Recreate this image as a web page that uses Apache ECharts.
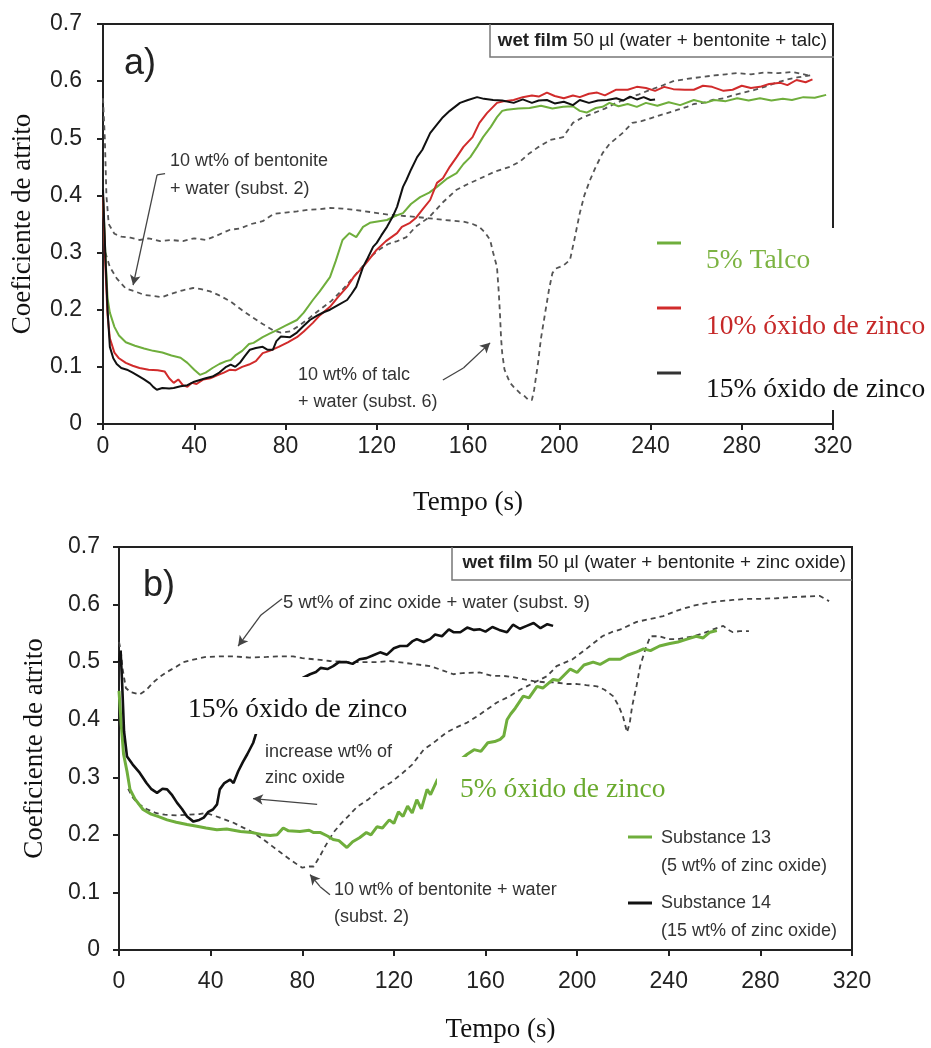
<!DOCTYPE html>
<html>
<head>
<meta charset="utf-8">
<script src="https://cdn.jsdelivr.net/npm/echarts@6/dist/echarts.min.js"></script>
<style>
  html, body { margin: 0; padding: 0; background: #fff; }
  #chart { width: 931px; height: 1048px; }
</style>
</head>
<body>
<div id="chart"></div>
<script>
// ticks shared by both panels
const xTicks = [0, 40, 80, 120, 160, 200, 240, 280, 320]
const yTicks = [0, 0.1, 0.2, 0.3, 0.4, 0.5, 0.6, 0.7]

// ---- panel a) : [tempo (s), coeficiente] ----
const talco5 = [[0,0.40],[1,0.30],[2,0.22],[3,0.195],[5,0.17],[7,0.155],[10,0.143],[14,0.137],[18,0.132],[22,0.128],[26,0.125],[30,0.12],[34,0.116],[37,0.107],[40,0.095],[42.5,0.086],[45,0.09],[48,0.098],[51,0.105],[54,0.11],[56,0.112],[58,0.12],[61,0.128],[64,0.14],[66,0.142],[70,0.152],[73,0.158],[76,0.164],[80,0.172],[85,0.182],[88,0.195],[92,0.217],[95,0.232],[99.5,0.257],[102,0.285],[105,0.322],[108,0.334],[111,0.327],[114,0.345],[117,0.352],[121,0.355],[124.5,0.357],[128,0.364],[131.5,0.369],[135,0.385],[139,0.397],[143,0.405],[146.4,0.415],[151,0.43],[155,0.439],[158,0.455],[161,0.467],[164,0.485],[166.6,0.502],[170,0.52],[172.7,0.537],[175,0.548],[177,0.55],[182,0.552],[187,0.553],[192,0.557],[197,0.552],[201.7,0.555],[206,0.556],[209,0.548],[212,0.545],[216,0.553],[219,0.555],[222,0.562],[226,0.556],[230,0.56],[234,0.555],[238,0.562],[243,0.557],[248,0.563],[253,0.558],[259,0.567],[264,0.562],[268,0.567],[273,0.565],[278,0.57],[283,0.566],[288,0.57],[293,0.566],[298,0.569],[302,0.567],[307,0.572],[312,0.571],[317,0.576]]
const zinco10 = [[0,0.40],[1,0.28],[2,0.19],[3,0.15],[5,0.125],[7,0.115],[10,0.107],[13,0.102],[16,0.098],[20,0.095],[24,0.094],[27,0.092],[29,0.08],[31,0.072],[33,0.078],[35,0.068],[37,0.065],[39,0.072],[41,0.07],[44,0.078],[47,0.08],[50,0.085],[53,0.09],[55.7,0.095],[58,0.094],[61,0.1],[64,0.104],[67,0.11],[70,0.124],[73,0.128],[77,0.135],[81,0.143],[85,0.152],[88,0.162],[92,0.177],[95,0.19],[99.5,0.205],[103,0.222],[107,0.24],[110,0.258],[114,0.275],[117,0.29],[120,0.305],[124,0.32],[128.9,0.334],[131,0.345],[134.6,0.352],[137,0.36],[140,0.375],[143.4,0.392],[146.4,0.422],[149,0.43],[152,0.45],[155,0.467],[158,0.485],[162,0.502],[165,0.527],[168.3,0.544],[172.7,0.562],[176,0.565],[180,0.567],[184,0.572],[188,0.575],[191,0.573],[194.6,0.58],[198,0.574],[202,0.57],[206,0.575],[209,0.572],[213,0.578],[216.6,0.58],[220,0.575],[225,0.585],[230,0.585],[234,0.59],[238,0.588],[242,0.583],[246,0.59],[250,0.586],[255,0.585],[259,0.585],[263,0.592],[267,0.59],[272,0.583],[276,0.585],[280,0.592],[284,0.588],[288,0.59],[292,0.595],[297,0.597],[300,0.593],[304,0.602],[308,0.598],[311,0.603]]
const zinco15 = [[0,0.41],[1,0.3],[2,0.2],[3,0.135],[4.5,0.115],[6,0.105],[8,0.098],[10.5,0.095],[13,0.09],[16,0.083],[18,0.078],[20.6,0.071],[22,0.065],[23.6,0.06],[26,0.063],[29,0.062],[31,0.063],[34,0.066],[37,0.068],[40,0.074],[42.5,0.077],[45,0.08],[48,0.083],[51,0.09],[54,0.1],[56,0.104],[58,0.1],[60,0.107],[62,0.118],[64.4,0.13],[67,0.133],[70,0.135],[72,0.13],[74.5,0.13],[76,0.145],[78,0.153],[82,0.152],[85,0.16],[88,0.172],[90.7,0.182],[94,0.19],[97,0.196],[99.5,0.2],[103,0.208],[107,0.217],[109,0.228],[111,0.24],[114,0.275],[116,0.29],[118.4,0.31],[120,0.317],[122,0.33],[124.5,0.345],[127,0.363],[128.9,0.38],[131.5,0.415],[133,0.427],[135,0.445],[137.7,0.467],[140,0.48],[143.4,0.509],[146,0.522],[149,0.537],[152,0.548],[156.5,0.562],[160,0.567],[164,0.572],[167,0.569],[171,0.567],[175,0.566],[180,0.562],[184,0.568],[188,0.562],[191,0.566],[194.6,0.567],[198,0.561],[202,0.564],[206,0.558],[209,0.567],[213,0.562],[217,0.566],[221,0.567],[225,0.57],[228,0.566],[231,0.573],[234,0.568],[237,0.572],[240,0.567],[242,0.568]]
// 10 wt% of talc + water (subst. 6)
const talcSubst6 = [[0,0.57],[0.8,0.50],[1.5,0.40],[2.5,0.35],[5,0.333],[8,0.328],[12,0.326],[16,0.322],[20,0.325],[25,0.32],[30,0.322],[35,0.32],[40,0.325],[45,0.322],[50,0.33],[55.7,0.34],[60,0.342],[65,0.35],[70,0.355],[75,0.368],[80,0.37],[85,0.372],[90,0.375],[95,0.376],[99.5,0.378],[105,0.377],[110,0.375],[117,0.371],[122,0.368],[126,0.366],[132,0.364],[138,0.362],[143,0.36],[150,0.357],[158,0.354],[162,0.35],[165,0.345],[167.5,0.335],[169.7,0.322],[171,0.3],[172.7,0.275],[173.5,0.23],[174,0.194],[174.5,0.15],[175,0.124],[176,0.095],[178.4,0.072],[180,0.065],[182.8,0.054],[185,0.048],[186.5,0.042],[188,0.042],[189,0.06],[190.7,0.107],[192,0.15],[193.8,0.194],[195.5,0.235],[197,0.264],[198.5,0.272],[200.3,0.275],[202,0.278],[204.7,0.287],[206.5,0.32],[209,0.369],[211,0.4],[213.5,0.427],[216,0.45],[219,0.474],[222,0.49],[225,0.5],[228,0.51],[232,0.527],[236,0.53],[240,0.535],[244,0.54],[248,0.545],[252,0.55],[256,0.555],[259,0.56],[263,0.562],[267,0.567],[272,0.57],[276,0.575],[281,0.58],[286,0.585],[290,0.59],[295,0.597],[300,0.603],[305,0.607],[310,0.61]]
// 10 wt% of bentonite + water (subst. 2)
const bentSubst2a = [[1,0.30],[3,0.275],[6,0.255],[10,0.237],[14,0.232],[18,0.226],[22,0.224],[26,0.222],[30,0.228],[35,0.234],[39.5,0.238],[43,0.236],[47,0.232],[51,0.225],[55.7,0.215],[60,0.202],[65,0.188],[70,0.175],[75,0.163],[78,0.16],[82,0.162],[86,0.172],[90,0.184],[95,0.2],[100,0.215],[105,0.235],[110,0.258],[113,0.272],[117,0.292],[121,0.305],[125,0.315],[129,0.32],[133,0.327],[137,0.345],[143,0.362],[149,0.388],[155,0.41],[160,0.42],[166.6,0.432],[172,0.442],[178.4,0.45],[183,0.46],[187,0.474],[191,0.485],[196,0.497],[201.7,0.502],[206,0.527],[210,0.536],[215,0.544],[220,0.552],[225,0.562],[230,0.57],[235,0.577],[240,0.585],[245,0.592],[250,0.6],[256,0.604],[262,0.607],[268,0.61],[273,0.612],[278,0.614],[284,0.612],[290,0.615],[296,0.614],[302,0.616],[306,0.613],[309,0.61]]

// ---- panel b) ----
const subst13 = [[0,0.45],[1,0.39],[2,0.34],[3.5,0.31],[4.8,0.279],[7,0.262],[10.5,0.244],[14,0.236],[17,0.232],[21,0.226],[25,0.222],[29.7,0.218],[34,0.215],[38,0.212],[42.7,0.209],[47,0.21],[53,0.206],[58,0.204],[63,0.2],[66,0.199],[69,0.2],[71.7,0.212],[74,0.207],[79,0.206],[83,0.208],[85,0.204],[88,0.204],[91,0.198],[93.5,0.192],[96,0.19],[99.5,0.178],[102,0.188],[105,0.195],[108,0.204],[110,0.2],[112.6,0.214],[115,0.212],[118,0.226],[120,0.22],[122,0.24],[124,0.232],[126,0.25],[128,0.238],[130,0.261],[132,0.245],[134.5,0.279],[136,0.27],[139,0.296],[142,0.305],[145,0.315],[149,0.33],[152,0.34],[155,0.348],[158,0.345],[161,0.36],[164,0.362],[166.4,0.366],[168,0.372],[169.4,0.40],[171,0.41],[173,0.42],[176.5,0.441],[179,0.438],[182.5,0.458],[185,0.455],[189.5,0.47],[192,0.468],[197,0.488],[200,0.482],[203,0.495],[207,0.5],[210,0.496],[214,0.505],[218.8,0.505],[222,0.512],[226,0.518],[229,0.523],[232,0.52],[236,0.528],[240,0.532],[244,0.535],[248,0.54],[252,0.545],[255,0.542],[258,0.552],[261,0.555]]
const subst14 = [[0,0.5],[0.7,0.52],[1.3,0.47],[2.2,0.38],[3.5,0.336],[6,0.322],[9,0.308],[12,0.29],[14,0.28],[16.6,0.273],[19,0.28],[21,0.279],[23,0.27],[25.3,0.256],[27.5,0.245],[29.7,0.232],[32.5,0.223],[35,0.226],[37,0.23],[39,0.24],[41,0.244],[42.8,0.253],[44,0.279],[46,0.29],[48.5,0.296],[50,0.29],[52,0.31],[54,0.326],[56,0.34],[58.6,0.36],[60,0.378],[62,0.39],[65,0.41],[68,0.43],[72,0.45],[76,0.462],[80,0.472],[83.4,0.479],[86,0.483],[88,0.49],[91,0.488],[93.5,0.493],[96,0.5],[99.5,0.5],[102,0.497],[105,0.505],[108,0.507],[111,0.512],[114,0.517],[117,0.513],[120,0.524],[122.7,0.528],[125.8,0.528],[128,0.536],[130,0.54],[133,0.535],[135.8,0.54],[138,0.548],[141,0.545],[144,0.557],[146,0.552],[149,0.552],[152,0.56],[155,0.556],[157.6,0.557],[160,0.553],[163,0.561],[166,0.556],[169.4,0.552],[172,0.565],[175,0.558],[178,0.563],[181,0.568],[184,0.559],[187,0.566],[189.5,0.563]]
// 5 wt% of zinc oxide + water (subst. 9)
const zincSubst9 = [[0,0.535],[0.8,0.52],[1.5,0.49],[3,0.455],[5,0.448],[9,0.444],[12,0.452],[15,0.465],[18,0.475],[21,0.483],[25,0.492],[28,0.5],[33,0.505],[38,0.509],[44,0.51],[50,0.51],[57,0.508],[64.5,0.509],[70,0.51],[76,0.51],[80,0.507],[85,0.505],[92,0.502],[99.5,0.5],[106,0.5],[112.7,0.5],[118,0.502],[124,0.499],[130,0.496],[136,0.493],[141,0.486],[146,0.479],[150,0.481],[157.6,0.482],[163,0.476],[168,0.476],[172,0.474],[177,0.47],[181,0.467],[186,0.465],[190,0.465],[195.6,0.462],[200,0.462],[204,0.46],[208.7,0.458],[212,0.452],[215.7,0.441],[218,0.425],[220,0.406],[221.8,0.378],[223,0.395],[224,0.423],[226,0.46],[227.5,0.493],[230,0.525],[232,0.545],[236,0.545],[240,0.54],[244,0.54],[248,0.543],[251,0.545],[255,0.55],[259.4,0.557],[263.8,0.563],[266,0.556],[268,0.552],[271,0.554],[275,0.554]]
const bentSubst2b = [[4,0.28],[6,0.265],[8,0.255],[12,0.245],[16,0.238],[20,0.235],[25,0.234],[30,0.235],[35,0.236],[38,0.238],[44,0.23],[50,0.221],[54,0.213],[58.6,0.204],[63,0.192],[67,0.18],[71,0.168],[74.7,0.157],[78,0.148],[80,0.143],[83,0.145],[85,0.145],[88,0.165],[90,0.18],[93.6,0.204],[97,0.22],[100,0.232],[104,0.249],[109,0.262],[114,0.279],[119,0.292],[124,0.308],[128,0.322],[133,0.348],[138,0.362],[143,0.378],[148,0.388],[152,0.395],[156,0.405],[160.7,0.418],[165,0.43],[170.7,0.441],[175,0.452],[178,0.458],[183,0.468],[187,0.476],[191,0.493],[198,0.505],[204,0.523],[211,0.545],[215,0.552],[219,0.557],[226,0.57],[232,0.575],[237.6,0.58],[244,0.59],[250.7,0.598],[256,0.602],[262,0.606],[268,0.608],[274,0.61],[280,0.61],[287,0.611],[294,0.613],[300,0.614],[306,0.615],[310,0.606]]

// annotation arrows, in data coords: [from, to, withHead]
const arrowsA = [
  [[27.2, 0.438], [23.7, 0.436], false],
  [[23.7, 0.436], [13.2, 0.243], true],
  [[149, 0.077], [158, 0.098], false],
  [[158, 0.098], [169.7, 0.142], true]
]
const arrowsB = [
  [[71.2, 0.61], [62, 0.582], false],
  [[62, 0.582], [52, 0.528], true],
  [[86.5, 0.253], [58.5, 0.263], true],
  [[92.1, 0.096], [87.8, 0.11], false],
  [[87.8, 0.11], [83.4, 0.131], true]
]

const SANS = 'Liberation Sans'
const SERIF = 'Liberation Serif'
const INK = '#222'

const chart = echarts.init(document.getElementById('chart'))

function xAxisFor (gi, margin, gap, namePad) {
  return {
    type: 'value', gridIndex: gi,
    min: xTicks[0], max: xTicks[xTicks.length - 1], interval: xTicks[1] - xTicks[0],
    axisLine: { onZero: false, lineStyle: { color: INK, width: 2 } },
    axisTick: { length: 6, lineStyle: { color: INK, width: 2 } },
    splitLine: { show: false },
    axisLabel: { fontFamily: SANS, fontSize: 23, color: INK, margin: margin },
    name: 'Tempo (s)', nameLocation: 'middle', nameGap: gap,
    nameTextStyle: { fontFamily: SERIF, fontSize: 27, color: '#111', padding: namePad }
  }
}
function yAxisFor (gi, margin, gap) {
  return {
    type: 'value', gridIndex: gi,
    min: yTicks[0], max: yTicks[yTicks.length - 1], interval: 0.1,
    axisLine: { onZero: false, lineStyle: { color: INK, width: 2 } },
    axisTick: { length: 6, lineStyle: { color: INK, width: 2 } },
    splitLine: { show: false },
    axisLabel: {
      fontFamily: SANS, fontSize: 23, color: INK, margin: margin,
      formatter: v => v === 0 ? '0' : v.toFixed(1)
    },
    name: 'Coeficiente de atrito', nameLocation: 'middle', nameGap: gap, nameRotate: 90,
    nameTextStyle: { fontFamily: SERIF, fontSize: 27, color: '#111' }
  }
}

function line (data, gi, color, width, dashed) {
  return {
    type: 'line', xAxisIndex: gi, yAxisIndex: gi, data: data,
    showSymbol: false, symbol: 'none', silent: true,
    lineStyle: { color: color, width: width, type: dashed ? [5, 4] : 'solid' }
  }
}
function arrows (list) {
  return {
    silent: true, animation: false,
    label: { show: false },
    lineStyle: { color: '#444', width: 1.3, type: 'solid' },
    symbolSize: [8, 10],
    data: list.map(a => [
      { coord: a[0], symbol: 'none' },
      { coord: a[1], symbol: a[2] ? 'arrow' : 'none' }
    ])
  }
}

const dashA = line(talcSubst6, 0, '#555', 1.8, true)
dashA.markLine = arrows(arrowsA)
const dashB = line(zincSubst9, 1, '#444', 1.8, true)
dashB.markLine = arrows(arrowsB)

function txt (x, y, text, size, color, font, extra) {
  return {
    type: 'text', x: x, y: y, z: 60,
    style: Object.assign({ text: text, font: size + 'px "' + font + '"', fill: color, verticalAlign: 'middle' }, extra || {})
  }
}
function seg (x1, y1, x2, y2, color, w) {
  return { type: 'line', z: 60, shape: { x1: x1, y1: y1, x2: x2, y2: y2 }, style: { stroke: color, lineWidth: w } }
}
function header (x, y, text) {
  return {
    type: 'text', x: x, y: y, z: 60,
    style: {
      text: '{b|wet film} ' + text, align: 'right', verticalAlign: 'middle',
      font: '18.8px "' + SANS + '"', fill: INK,
      rich: { b: { fontWeight: 'bold', fontSize: 18.8, fontFamily: SANS, fill: INK } }
    }
  }
}

const graphics = [
  // panel a) header box and label
  { type: 'polyline', z: 60, shape: { points: [[490, 24], [490, 57], [834, 57]] }, style: { stroke: '#777', lineWidth: 1.5, fill: null } },
  header(827, 41, '50 µl (water + bentonite + talc)'),
  txt(124, 64, 'a)', 36, INK, SANS),
  txt(170, 161, '10 wt% of bentonite', 18, '#333', SANS),
  txt(170, 189, '+ water (subst. 2)', 18, '#333', SANS),
  txt(298, 375, '10 wt% of talc', 18, '#333', SANS),
  txt(298, 402, '+ water (subst. 6)', 18, '#333', SANS),
  // panel a) legend on a white patch
  { type: 'rect', z: 55, shape: { x: 688, y: 228, width: 243, height: 182 }, style: { fill: '#fff' } },
  seg(657, 243, 681, 243, '#6fae3c', 3),
  txt(706, 261, '5% Talco', 27.5, '#7cb342', SERIF),
  seg(657, 308, 681, 308, '#d12b2b', 3),
  txt(706, 327, '10% óxido de zinco', 27.5, '#c62828', SERIF),
  seg(657, 373, 681, 373, '#333', 3),
  txt(706, 390, '15% óxido de zinco', 27.5, '#111', SERIF),

  // panel b) header box and label
  { type: 'polyline', z: 60, shape: { points: [[452, 547], [452, 580], [852, 580]] }, style: { stroke: '#777', lineWidth: 1.5, fill: null } },
  header(846, 563, '50 µl (water + bentonite + zinc oxide)'),
  txt(143, 586, 'b)', 36, INK, SANS),
  txt(283, 603, '5 wt% of zinc oxide + water (subst. 9)', 18.5, '#333', SANS),
  txt(174, 677, '15% óxido de zinco', 27.5, '#111', SERIF,
    { verticalAlign: 'top', backgroundColor: '#fff', padding: [19, 12, 10, 14] }),
  txt(265, 752, 'increase wt% of', 18, '#333', SANS),
  txt(265, 778, 'zinc oxide', 18, '#333', SANS),
  txt(334, 890, '10 wt% of bentonite + water', 18, '#333', SANS),
  txt(334, 917, '(subst. 2)', 18, '#333', SANS),
  txt(437, 757, '5% óxido de zinco', 27.5, '#6aaa2e', SERIF,
    { verticalAlign: 'top', backgroundColor: '#fff', padding: [19, 10, 6, 23] }),
  // panel b) legend
  seg(628, 837, 652, 837, '#6fae3c', 3),
  txt(661, 838, 'Substance 13', 18, '#333', SANS),
  txt(661, 866, '(5 wt% of zinc oxide)', 18, '#333', SANS),
  seg(628, 903, 652, 903, '#111', 3),
  txt(661, 903, 'Substance 14', 18, '#333', SANS),
  txt(661, 931, '(15 wt% of zinc oxide)', 18, '#333', SANS)
]

chart.setOption({
  animation: false,
  backgroundColor: '#fff',
  grid: [
    { left: 103, top: 24, width: 730, height: 400, show: true, borderColor: INK, borderWidth: 2 },
    { left: 119, top: 547, width: 733, height: 403, show: true, borderColor: INK, borderWidth: 2 }
  ],
  xAxis: [xAxisFor(0, 11, 65, 0), xAxisFor(1, 20, 66, [0, 0, 0, 30])],
  yAxis: [yAxisFor(0, 21, 67), yAxisFor(1, 19, 71)],
  series: [
    dashA,
    line(bentSubst2a, 0, '#555', 1.8, true),
    line(talco5, 0, '#6fae3c', 2, false),
    line(zinco10, 0, '#d12b2b', 2, false),
    line(zinco15, 0, '#111', 2, false),
    dashB,
    line(bentSubst2b, 1, '#444', 1.8, true),
    line(subst13, 1, '#6fae3c', 3, false),
    line(subst14, 1, '#111', 2.6, false)
  ],
  graphic: graphics
})
</script>
</body>
</html>
